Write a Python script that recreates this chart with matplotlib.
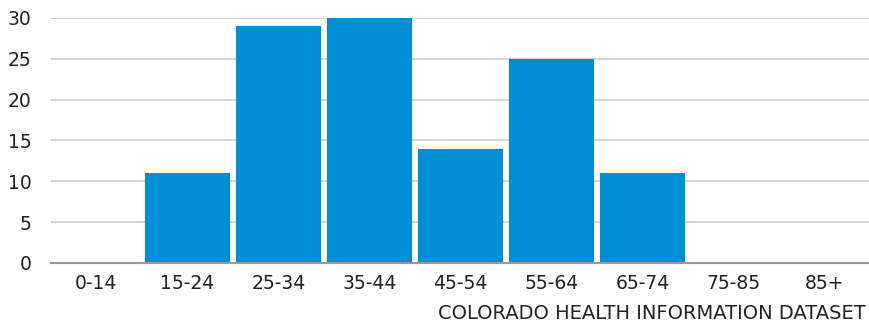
import matplotlib
matplotlib.use('Agg')
import matplotlib.pyplot as plt
import numpy as np

# grupy wiekowe i liczebnosci
age_groups = ['0-14', '15-24', '25-34', '35-44', '45-54', '55-64', '65-74', '75-85', '85+']
counts = [0, 11, 29, 30, 14, 25, 11, 0, 0]
y_ticks = [0, 5, 10, 15, 20, 25, 30]
source_note = 'COLORADO HEALTH INFORMATION DATASET'

plt.rcParams['font.family'] = ['DejaVu Sans']

fig = plt.figure(figsize=(8.7, 3.25), dpi=100)
ax = fig.add_axes([0.0585, 0.191, 0.9415, 0.754])

x = np.arange(len(age_groups))
ax.bar(x, counts, width=0.93, color='#008ED6', zorder=3)

ax.set_xlim(-0.5, len(age_groups) - 0.5)
ax.set_ylim(0, 30)
ax.set_yticks(y_ticks)
ax.set_xticks(x)
ax.set_xticklabels(age_groups)

# siatka i osie
ax.yaxis.grid(True, color='#cccccc', linewidth=1.2, zorder=0)
for s in ['top', 'right', 'left']:
	ax.spines[s].set_visible(False)
ax.spines['bottom'].set_color('#999999')
ax.spines['bottom'].set_linewidth(1.5)
ax.spines['bottom'].set_zorder(4)
ax.tick_params(axis='both', length=0, labelsize=13.5, colors='#222222')
ax.tick_params(axis='y', pad=14)
ax.tick_params(axis='x', pad=8)

fig.text(0.995, 0.036, source_note, ha='right', va='center', fontsize=14, color='#222222')

fig.savefig('out.png', dpi=100)
